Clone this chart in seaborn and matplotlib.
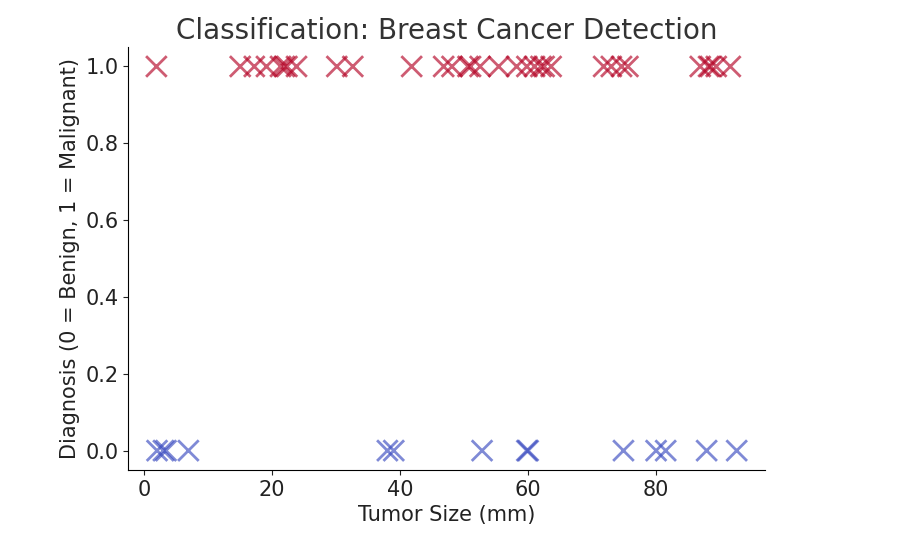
import matplotlib

matplotlib.use("Agg")
import matplotlib.pyplot as plt
import pandas as pd
import seaborn as sns

malignant_sizes = [1.9, 15.0, 17.2, 19.1, 21.3, 21.9, 22.3, 23.8, 30.1, 32.6, 41.8, 46.8,
                   48.1, 50.6, 51.0, 52.5, 55.4, 58.2, 59.8, 61.0, 62.0, 62.5, 63.6,
                   71.8, 73.0, 74.6, 75.6, 86.9, 88.2, 88.5, 89.4, 91.6]
benign_sizes = [2.0, 3.0, 3.4, 6.9, 38.0, 39.0, 52.8, 59.8, 60.0, 74.9, 80.0, 81.5, 87.9, 92.6]

df = pd.DataFrame({
    "size": malignant_sizes + benign_sizes,
    "diagnosis": [1] * len(malignant_sizes) + [0] * len(benign_sizes),
})

fig = plt.figure(figsize=(9.16, 5.56), dpi=100)
ax = fig.add_axes([0.14, 0.155, 0.695, 0.76])
sns.scatterplot(data=df, x="size", y="diagnosis", hue="diagnosis",
                palette={0: "#3b4cc0", 1: "#b40426"}, marker="x", s=220,
                linewidth=2, alpha=0.65, legend=False, ax=ax)
ax.set_title("Classification: Breast Cancer Detection", fontsize=20, color="#333333")
ax.set_xlabel("Tumor Size (mm)", fontsize=15, color="#222222")
ax.set_ylabel("Diagnosis (0 = Benign, 1 = Malignant)", fontsize=15, color="#222222")
ax.set_xlim(-2.5, 97)
ax.set_ylim(-0.05, 1.05)
ax.set_xticks([0, 20, 40, 60, 80])
ax.set_yticks([0.0, 0.2, 0.4, 0.6, 0.8, 1.0])
ax.set_yticklabels(["0.0", "0.2", "0.4", "0.6", "0.8", "1.0"])
ax.tick_params(labelsize=15, colors="#222222")
sns.despine(ax=ax)
fig.savefig("out.png", dpi=100)
